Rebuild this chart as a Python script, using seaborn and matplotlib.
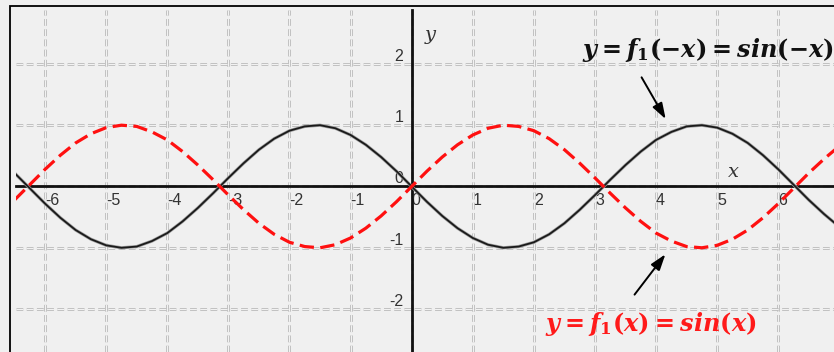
import numpy as np
import pandas as pd
import seaborn as sns
import matplotlib.pyplot as plt
import matplotlib.patheffects as pe

# values, step 0.25 along x
x_vals = [-6.75, -6.5, -6.25, -6.0, -5.75, -5.5, -5.25, -5.0, -4.75, -4.5, -4.25, -4.0,
          -3.75, -3.5, -3.25, -3.0, -2.75, -2.5, -2.25, -2.0, -1.75, -1.5, -1.25, -1.0,
          -0.75, -0.5, -0.25, 0.0, 0.25, 0.5, 0.75, 1.0, 1.25, 1.5, 1.75, 2.0,
          2.25, 2.5, 2.75, 3.0, 3.25, 3.5, 3.75, 4.0, 4.25, 4.5, 4.75, 5.0,
          5.25, 5.5, 5.75, 6.0, 6.25, 6.5, 6.75, 7.0]
sin_x = [-0.45, -0.22, 0.03, 0.28, 0.51, 0.71, 0.86, 0.96, 1.00, 0.98, 0.89, 0.76,
         0.57, 0.35, 0.11, -0.14, -0.38, -0.60, -0.78, -0.91, -0.98, -1.00, -0.95, -0.84,
         -0.68, -0.48, -0.25, 0.00, 0.25, 0.48, 0.68, 0.84, 0.95, 1.00, 0.98, 0.91,
         0.78, 0.60, 0.38, 0.14, -0.11, -0.35, -0.57, -0.76, -0.89, -0.98, -1.00, -0.96,
         -0.86, -0.71, -0.51, -0.28, -0.03, 0.22, 0.45, 0.66]
sin_neg_x = [0.45, 0.22, -0.03, -0.28, -0.51, -0.71, -0.86, -0.96, -1.00, -0.98, -0.89, -0.76,
             -0.57, -0.35, -0.11, 0.14, 0.38, 0.60, 0.78, 0.91, 0.98, 1.00, 0.95, 0.84,
             0.68, 0.48, 0.25, 0.00, -0.25, -0.48, -0.68, -0.84, -0.95, -1.00, -0.98, -0.91,
             -0.78, -0.60, -0.38, -0.14, 0.11, 0.35, 0.57, 0.76, 0.89, 0.98, 1.00, 0.96,
             0.86, 0.71, 0.51, 0.28, 0.03, -0.22, -0.45, -0.66]
x_ticks = [-6, -5, -4, -3, -2, -1, 0, 1, 2, 3, 4, 5, 6]
y_ticks = [-2, -1, 0, 1, 2]

df = pd.DataFrame({"x": x_vals, "sin": sin_x, "sin_neg": sin_neg_x})

sns.set_style("white")
plt.rcParams["font.family"] = ["Liberation Sans", "DejaVu Sans"]
plt.rcParams["axes.unicode_minus"] = False
plt.rcParams["mathtext.fontset"] = "custom"
plt.rcParams["mathtext.rm"] = "DejaVu Serif:bold"
plt.rcParams["mathtext.it"] = "DejaVu Serif:bold:italic"
plt.rcParams["mathtext.bf"] = "DejaVu Serif:bold"

bg = "#f0f0f0"
fig = plt.figure(figsize=(8.34, 3.52), dpi=100, facecolor=bg)
ax = fig.add_axes([16 / 834, 0, 818 / 834, 342 / 352], facecolor=bg)
ax.set_xlim(-6.476, 6.912)
ax.set_ylim(-2.70, 2.879)

# outer frame
fig.patches.append(plt.Rectangle((10 / 834, -0.1), 1.0, (346 / 352) + 0.1,
                                 transform=fig.transFigure, fill=False,
                                 edgecolor="black", lw=1.3, zorder=10))

grid_fx = [pe.Stroke(linewidth=2.0, foreground="#bdbdbd"), pe.Normal()]
for xv in x_ticks:
    ax.axvline(xv, color="#f4f4f4", lw=0.7, ls=(0, (7, 3.5)), zorder=1, path_effects=grid_fx)
for yv in y_ticks:
    ax.axhline(yv, color="#f4f4f4", lw=0.7, ls=(0, (7, 3.5)), zorder=1, path_effects=grid_fx)

for s in ["top", "right"]:
    ax.spines[s].set_visible(False)
ax.spines["left"].set_position(("data", 0))
ax.spines["bottom"].set_position(("data", 0))
for s in ["left", "bottom"]:
    ax.spines[s].set_linewidth(2.0)
    ax.spines[s].set_color("#111111")
    ax.spines[s].set_zorder(3)

ax.set_xticks(x_ticks)
ax.set_yticks(y_ticks)
ax.tick_params(axis="both", direction="out", length=3, width=1.5, color="#111111",
               labelsize=11.5, labelcolor="#333333")
ax.tick_params(axis="x", pad=2)
ax.tick_params(axis="y", pad=3)
for lab in ax.get_xticklabels():
    lab.set_horizontalalignment("left")
for lab in ax.get_yticklabels():
    lab.set_verticalalignment("bottom")

sns.lineplot(data=df, x="x", y="sin_neg", ax=ax, color="#1a1a1a", lw=1.3, zorder=4,
             sort=False, path_effects=[pe.Stroke(linewidth=2.3, foreground="#a0a0a0"), pe.Normal()])
sns.lineplot(data=df, x="x", y="sin", ax=ax, color="#ff1010", lw=2.3, zorder=5,
             sort=False, linestyle=(0, (4.5, 2)))
ax.set_xlabel("")
ax.set_ylabel("")

ax.text(5.26, 0.24, "x", fontsize=14, family="DejaVu Serif", style="italic",
        color="#333333", ha="center", va="center")
ax.text(0.30, 2.47, "y", fontsize=14, family="DejaVu Serif", style="italic",
        color="#333333", ha="center", va="center")

ax.text(4.84, 2.22, r"$y=f_1(-x)=sin(-x)$", fontsize=17.3, color="#111111",
        ha="center", va="center", zorder=6)
ax.text(3.92, -2.24, r"$y=f_1(x)=sin(x)$", fontsize=17.3, color="#ff1a1a",
        ha="center", va="center", zorder=6)

arrow = dict(arrowstyle="-|>,head_length=0.6,head_width=0.2", color="black", lw=1.4,
             mutation_scale=16)
ax.annotate("", xy=(4.18, 1.06), xytext=(3.74, 1.82), arrowprops=arrow, zorder=6)
ax.annotate("", xy=(4.18, -1.07), xytext=(3.62, -1.80), arrowprops=arrow, zorder=6)

fig.savefig("out.png", dpi=100, facecolor=bg)
